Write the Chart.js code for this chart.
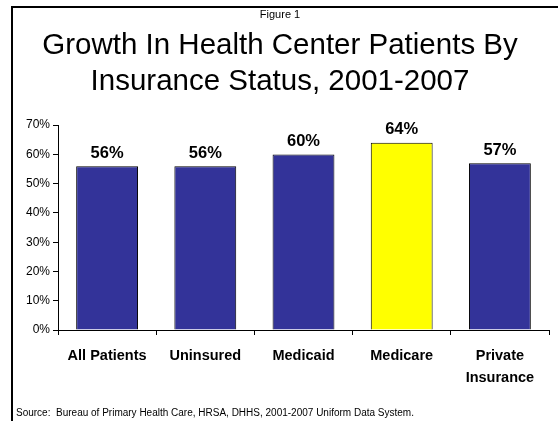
<!DOCTYPE html>
<html>
<head>
<meta charset="utf-8">
<script src="https://cdn.jsdelivr.net/npm/chart.js@4"></script>
<style>
  html, body { margin: 0; padding: 0; background: #fff; overflow: hidden; }
  #wrap { position: relative; width: 558px; height: 421px; }
</style>
</head>
<body>
<div id="wrap"><canvas id="c"></canvas></div>
<script>
const categories = ['All Patients', 'Uninsured', 'Medicaid', 'Medicare', ['Private', 'Insurance']];
const growthPct = [56, 56, 60, 64, 57];
const barColors = ['#333399', '#333399', '#333399', '#FFFF00', '#333399'];
const yTicksMax = 70;
const yTickStep = 10;
const figureLabel = 'Figure 1';
const titleLines = ['Growth In Health Center Patients By', 'Insurance Status, 2001-2007'];
const sourceNote = 'Source:  Bureau of Primary Health Care, HRSA, DHHS, 2001-2007 Uniform Data System.';

const FONT = '"Liberation Sans", Arial, Helvetica, sans-serif';

const decor = {
  id: 'decor',
  beforeDraw(chart) {
    const ctx = chart.ctx;
    ctx.save();
    ctx.strokeStyle = '#000';
    ctx.lineWidth = 2;
    ctx.beginPath();
    ctx.moveTo(12, 421);
    ctx.lineTo(12, 7);
    ctx.lineTo(558, 7);
    ctx.stroke();
    ctx.restore();
  },
  afterDraw(chart) {
    const ctx = chart.ctx;
    ctx.save();
    ctx.fillStyle = '#000';
    ctx.font = '10px ' + FONT;
    ctx.textBaseline = 'middle';
    ctx.textAlign = 'left';
    ctx.fillText(sourceNote, 16, 413);
    ctx.restore();
  },
  afterDatasetsDraw(chart) {
    const ctx = chart.ctx;
    const meta = chart.getDatasetMeta(0);
    ctx.save();
    ctx.fillStyle = '#000';
    ctx.font = 'bold 16.5px ' + FONT;
    ctx.textAlign = 'center';
    ctx.textBaseline = 'middle';
    meta.data.forEach((bar, i) => {
      ctx.fillText(growthPct[i] + '%', bar.x, bar.y - 13);
    });
    ctx.restore();
  }
};

new Chart(document.getElementById('c'), {
  type: 'bar',
  data: {
    labels: categories,
    datasets: [{
      data: growthPct,
      backgroundColor: barColors,
      borderColor: '#000',
      borderWidth: 1,
      barPercentage: 0.63,
      categoryPercentage: 1
    }]
  },
  plugins: [decor],
  options: {
    responsive: true,
    maintainAspectRatio: false,
    animation: false,
    devicePixelRatio: 1,
    layout: { padding: { left: 11, right: 9, top: 0, bottom: 0 } },
    plugins: {
      legend: { display: false },
      tooltip: { enabled: false },
      title: {
        display: true,
        text: figureLabel,
        color: '#000',
        font: { family: FONT, size: 11, weight: 'normal', lineHeight: 1.2 },
        padding: { top: 8, bottom: 2 }
      },
      subtitle: {
        display: true,
        text: titleLines,
        color: '#000',
        font: { family: FONT, size: 29.5, weight: 'normal', lineHeight: 1.22 },
        padding: { top: 5, bottom: 25 }
      }
    },
    scales: {
      x: {
        afterFit(scale) { scale.height = 91; },
        grid: { display: true, drawOnChartArea: false, drawTicks: true, tickLength: 5, color: '#000', offset: true },
        border: { display: true, color: '#000', width: 1 },
        ticks: {
          color: '#000',
          padding: 10,
          font: { family: FONT, size: 14.5, weight: 'bold', lineHeight: 1.5 },
          maxRotation: 0,
          autoSkip: false
        }
      },
      y: {
        min: 0,
        max: yTicksMax,
        afterFit(scale) { scale.width = 47; },
        grid: { display: true, drawOnChartArea: false, drawTicks: true, tickLength: 5, color: '#000' },
        border: { display: true, color: '#000', width: 1 },
        ticks: {
          stepSize: yTickStep,
          color: '#000',
          padding: 3,
          font: { family: FONT, size: 12 },
          callback: (v) => v + '%'
        }
      }
    }
  }
});
</script>
</body>
</html>
